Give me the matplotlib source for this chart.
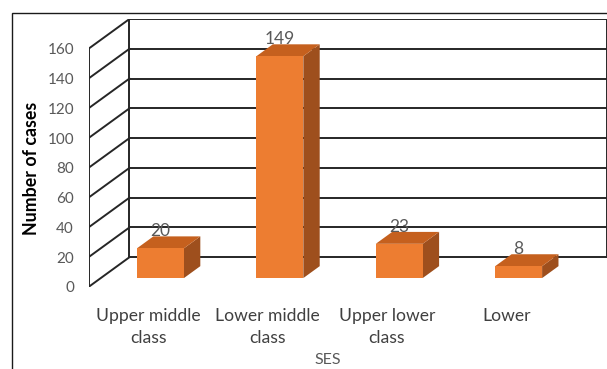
import matplotlib
matplotlib.use("Agg")
import matplotlib.pyplot as plt
from matplotlib.patches import Polygon, Rectangle

plt.rcParams['font.family'] = ['Lato', 'DejaVu Sans']

categories = ["Upper middle\nclass", "Lower middle\nclass", "Upper lower\nclass", "Lower"]
values = [20, 149, 23, 8]
yticks = [0, 20, 40, 60, 80, 100, 120, 140, 160]
ylabel = "Number of cases"
xlabel = "SES"

# 3-D oblique geometry (in data units)
DX = 0.343      # depth shift in category units
DY = 20.0       # depth shift in value units
D0, D1 = 0.3, 0.7
BW = 0.393
YMAX = 160

FRONT = "#ED7D31"
TOP = "#C5601E"
SIDE = "#9E4F1D"
GRID = "#262626"

W, H = 607, 369
fig = plt.figure(figsize=(W / 100, H / 100), dpi=100)
ax = fig.add_axes([88.5 / W, (H - 287) / H, 518.5 / W, 268 / H])
ax.set_xlim(-0.5, 3.5 + DX)
ax.set_ylim(0, YMAX + DY)
for s in ax.spines.values():
    s.set_visible(False)

# walls
lw = 1.4
x0, x1 = -0.5, len(categories) - 0.5
for v in yticks:
    ax.plot([x0 + DX, x1 + DX], [v + DY, v + DY], color=GRID, lw=lw, zorder=1)
    ax.plot([x0, x0 + DX], [v, v + DY], color=GRID, lw=lw, zorder=1)
ax.plot([x0, x0], [0, YMAX], color=GRID, lw=lw, zorder=1)
ax.plot([x0 + DX, x0 + DX], [DY, YMAX + DY], color=GRID, lw=lw, zorder=1)
ax.plot([x1 + DX, x1 + DX], [DY, YMAX + DY], color=GRID, lw=lw, zorder=1)

# bars
for i, v in enumerate(values):
    xl = i - BW / 2
    xr = i + BW / 2
    front = [(xl + D0 * DX, D0 * DY), (xr + D0 * DX, D0 * DY),
             (xr + D0 * DX, v + D0 * DY), (xl + D0 * DX, v + D0 * DY)]
    top = [(xl + D0 * DX, v + D0 * DY), (xr + D0 * DX, v + D0 * DY),
           (xr + D1 * DX, v + D1 * DY), (xl + D1 * DX, v + D1 * DY)]
    side = [(xr + D0 * DX, D0 * DY), (xr + D1 * DX, D1 * DY),
            (xr + D1 * DX, v + D1 * DY), (xr + D0 * DX, v + D0 * DY)]
    ax.add_patch(Polygon(side, closed=True, facecolor=SIDE, edgecolor="none", zorder=3))
    ax.add_patch(Polygon(top, closed=True, facecolor=TOP, edgecolor="none", zorder=3))
    ax.add_patch(Polygon(front, closed=True, facecolor=FRONT, edgecolor="none", zorder=4))
    ax.text(i + D0 * DX, v + D1 * DY, str(v), ha="center", va="baseline",
            fontsize=12.5, color="#595959", zorder=5)

ax.set_yticks(yticks)
ax.set_yticklabels([str(t) for t in yticks])
ax.tick_params(axis="y", length=0, pad=10.5, labelsize=11, labelcolor="#595959")
ax.set_xticks(range(len(categories)))
ax.set_xticklabels(categories, linespacing=1.45)
ax.tick_params(axis="x", length=0, pad=15, labelsize=12.6, labelcolor="#404040")

ax.set_ylabel(ylabel, fontsize=12.8, fontweight="bold", color="black")
ax.yaxis.set_label_coords(-0.093, 80 / (YMAX + DY))
ax.set_xlabel(xlabel, fontsize=11.5, color="#595959", va="bottom")
ax.xaxis.set_label_coords((1.5 + 0.5) / (4 + DX), -(369 - 287 - 2) / 268)

# chart border
fig.add_artist(Rectangle((12 / W, -0.1), 1.1, (H - 13) / H + 0.1, transform=fig.transFigure,
                         fill=False, edgecolor="#1a1a1a", lw=1.0))

fig.savefig("out.png", dpi=100)
